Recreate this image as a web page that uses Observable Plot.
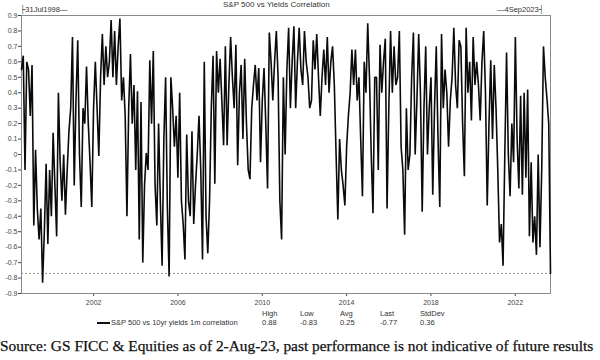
<!DOCTYPE html>
<html>
<head>
<meta charset="utf-8">
<script src="https://cdn.jsdelivr.net/npm/d3@7"></script>
<script src="https://cdn.jsdelivr.net/npm/@observablehq/plot@0.6"></script>
<style>
  html, body { margin: 0; padding: 0; background: #fff; }
  #wrap { position: relative; width: 600px; height: 360px; overflow: hidden; font-family: "Liberation Sans", Arial, sans-serif; color: #333; }
  #wrap svg { position: absolute; left: 0; top: 0; }
  .abs { position: absolute; white-space: nowrap; line-height: 1; }
  .small { font-size: 7.5px; color: #333; }
</style>
</head>
<body>
<div id="wrap"></div>
<script>
// ---- data (monthly, 31 Jul 1998 .. 4 Sep 2023) ----
const title = "S&P 500 vs Yields Correlation";
const startLabel = "├31Jul1998—";
const endLabel = "—4Sep2023┤";
const seriesName = "S&P 500 vs 10yr yields 1m correlation";
const statNames = ["High", "Low", "Avg", "Last", "StdDev"];
const statValues = ["0.88", "-0.83", "0.25", "-0.77", "0.36"];
const lastValue = -0.77;
const yTickValues = [0.9,0.8,0.7,0.6,0.5,0.4,0.3,0.2,0.1,0,-0.1,-0.2,-0.3,-0.4,-0.5,-0.6,-0.7,-0.8,-0.9];
const xTickYears = [2002, 2006, 2010, 2014, 2018, 2022];
const source = "Source: GS FICC & Equities as of 2-Aug-23, past performance is not indicative of future results";

const values = [
  0.55, 0.64, -0.1, 0.6, 0.55, 0.25, 0.58, -0.46, 0.03, -0.35,
  -0.55, -0.35, -0.83, -0.5, -0.06, -0.58, -0.1, -0.4, 0.14, -0.2,
  -0.53, 0.4, -0.05, -0.3, 0.0, -0.39, -0.1, 0.15, 0.3, 0.76,
  -0.2, 0.35, 0.74, 0.0, -0.34, 0.3, 0.2, 0.57, 0.2, -0.05,
  -0.34, 0.3, 0.6, 0.3, -0.01, 0.5, 0.78, 0.45, 0.7, 0.5,
  0.6, 0.87, 0.5, 0.8, 0.45, 0.7, 0.88, 0.35, 0.5, 0.25,
  -0.4, 0.3, 0.65, 0.2, 0.45, -0.1, 0.41, -0.55, 0.34, -0.7,
  -0.2, 0.01, -0.1, 0.61, 0.2, 0.67, -0.2, -0.46, 0.2, -0.3,
  -0.72, 0.1, 0.5, -0.35, -0.79, 0.5, 0.3, 0.05, 0.25, -0.15,
  0.4, -0.3, -0.45, -0.68, 0.13, -0.3, -0.4, 0.15, -0.45, -0.2,
  0.0, 0.25, -0.1, -0.68, 0.6, -0.4, -0.64, -0.3, 0.3, 0.64,
  -0.19, 0.67, 0.4, 0.62, 0.35, 0.06, 0.7, 0.06, 0.45, 0.76,
  0.5, 0.3, 0.71, -0.07, 0.4, 0.58, 0.1, 0.62, 0.2, -0.1,
  -0.16, 0.3, 0.45, 0.58, 0.35, 0.56, -0.05, 0.35, 0.56, 0.2,
  -0.22, 0.79, 0.6, 0.35, 0.6, 0.8, 0.5, -0.3, -0.55, 0.5,
  0.0, 0.55, 0.82, 0.3, 0.6, 0.83, 0.3, 0.6, 0.82, 0.55,
  0.45, 0.8, 0.6, 0.5, 0.3, 0.35, 0.74, 0.55, 0.78, 0.5,
  0.25, 0.5, 0.68, 0.45, 0.76, 0.4, 0.6, 0.7, 0.45, 0.0,
  -0.42, 0.1, -0.1, -0.2, -0.33, 0.05, 0.25, 0.4, 0.68, 0.45,
  0.68, 0.35, 0.5, 0.1, -0.27, 0.6, 0.4, 0.85, 0.5, 0.0,
  -0.38, 0.5, 0.5, -0.1, 0.71, 0.4, 0.6, 0.75, -0.35, 0.3,
  0.8, 0.4, 0.7, 0.45, 0.5, 0.8, 0.05, -0.1, -0.52, 0.3,
  -0.1, 0.0, 0.5, 0.79, 0.0, 0.35, 0.78, 0.4, -0.37, 0.3,
  0.7, 0.0, 0.3, 0.5, -0.26, 0.3, 0.7, 0.1, -0.34, 0.78,
  0.3, 0.55, 0.4, 0.05, 0.35, 0.5, 0.82, 0.45, 0.3, 0.74,
  0.7, 0.2, -0.14, 0.82, 0.4, 0.6, 0.22, 0.76, 0.45, 0.6,
  0.45, 0.22, 0.6, 0.8, 0.4, -0.33, 0.2, 0.61, 0.1, 0.58,
  0.3, -0.1, -0.57, -0.45, -0.72, 0.0, 0.66, 0.0, -0.27, 0.2,
  -0.05, 0.76, 0.1, -0.22, 0.38, -0.26, 0.4, -0.15, 0.42, -0.53,
  -0.05, -0.57, -0.4, -0.65, 0.0, -0.6, -0.1, 0.7, 0.5, 0.36,
  0.2, -0.77
];

const startDate = new Date(Date.UTC(1998, 6, 31));
const endDate = new Date(Date.UTC(2023, 8, 4));
const step = (endDate - startDate) / (values.length - 1);
const data = values.map((v, i) => ({date: new Date(+startDate + i * step), value: v}));
const xTicks = xTickYears.map(y => new Date(Date.UTC(y, 0, 1)));

const chart = Plot.plot({
  width: 600,
  height: 315,
  marginTop: 15,
  marginBottom: 22,
  marginLeft: 21,
  marginRight: 50,
  style: {fontFamily: "'Liberation Sans', Arial, sans-serif", fontSize: "7px", color: "#444", background: "transparent", overflow: "visible"},
  x: {type: "utc", domain: [startDate, endDate], ticks: xTicks, tickFormat: d3.utcFormat("%Y"), tickSize: 3, tickPadding: 4, label: null},
  y: {domain: [-0.9, 0.9], ticks: yTickValues, tickFormat: d => String(Math.round(d * 10) / 10), tickSize: 3, tickPadding: 1, label: null},
  marks: [
    Plot.frame({stroke: "#8a8a8a", strokeWidth: 1}),
    Plot.ruleY([lastValue], {stroke: "#777", strokeDasharray: "2,2", strokeWidth: 0.8}),
    Plot.line(data, {x: "date", y: "value", stroke: "#0a0a0a", strokeWidth: 1.6, strokeLinejoin: "miter"})
  ]
});

const wrap = document.getElementById("wrap");
wrap.appendChild(chart);

function addText(txt, left, top, cls, extra) {
  const d = document.createElement("div");
  d.className = "abs " + cls;
  d.textContent = txt;
  d.style.left = left + "px";
  d.style.top = top + "px";
  if (extra) Object.assign(d.style, extra);
  wrap.appendChild(d);
  return d;
}

addText(title, 223, 1, "small", {fontSize: "8px"});
addText(startLabel, 20, 6, "small", {fontSize: "7.5px"});
addText(endLabel, 497, 6, "small", {fontSize: "7.5px"});

// legend
const swatch = document.createElement("div");
swatch.className = "abs";
Object.assign(swatch.style, {left: "97px", top: "322px", width: "13px", height: "0", borderTop: "2px solid #111"});
wrap.appendChild(swatch);
addText(seriesName, 111, 319, "small");
const statX = [262, 300, 340, 380, 420];
statNames.forEach((n, i) => addText(n, statX[i], 310, "small"));
statValues.forEach((v, i) => addText(v, statX[i], 319, "small"));

addText(source, 0, 338, "", {fontFamily: "'Liberation Serif', 'DejaVu Serif', serif", fontSize: "15.4px", color: "#111", WebkitTextStroke: "0.25px #111"});
</script>
</body>
</html>
